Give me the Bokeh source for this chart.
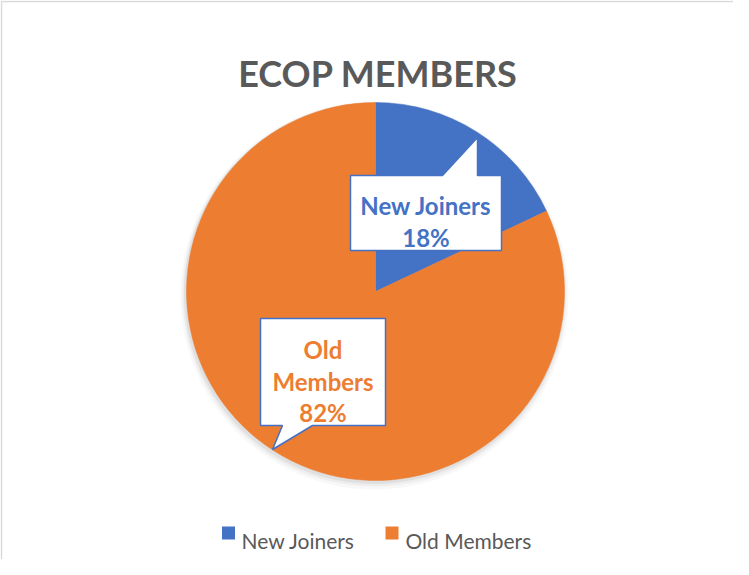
import math
from bokeh.plotting import figure
from bokeh.models import Range1d, ColumnDataSource
from bokeh.core.properties import value
from bokeh.embed import file_html
from bokeh.resources import INLINE

# ---- data ----
title = "ECOP MEMBERS"
categories = ["New Joiners", "Old Members"]
values = [18, 82]
colors = ["#4472C4", "#ED7D31"]

# ---- layout helpers (screen px -> data units) ----
W, H = 733, 559
def X(sx):
    return sx - 8
def Y(sy):
    return 567 - sy

FONT = "Lato"
cx, cy, R = X(383), Y(299), 189

p = figure(width=W, height=H, x_range=Range1d(0, W), y_range=Range1d(0, H),
           x_axis_type=None, y_axis_type=None, toolbar_location=None,
           output_backend="svg", min_border=0)
p.outline_line_color = None
p.grid.visible = False
p.background_fill_color = "white"
p.border_fill_color = "white"

# outer chart frame (top and left edges visible)
p.line([1, 1, W + 20], [-20, H - 1, H - 1], line_color="#D9D9D9", line_width=1.5)

# soft shadow
for dr, dy, a in [(5, 4, 0.05), (3, 3, 0.08), (1.5, 2, 0.12)]:
    p.circle(x=[cx - 1], y=[cy - dy], radius=R + dr, fill_color="#7F7F7F",
             fill_alpha=a, line_color=None)

# pie wedges
total = sum(values)
starts, ends = [], []
cum = math.pi / 2
for v in values:
    sweep = 2 * math.pi * v / total
    ends.append(cum)
    starts.append(cum - sweep)
    cum -= sweep
src = ColumnDataSource(dict(start=starts, end=ends, color=colors, cat=categories))
p.wedge(x=cx, y=cy, radius=R, start_angle="start", end_angle="end",
        fill_color="color", line_color="color", line_width=0.5, source=src)

# callouts
call_blue = "#4472C4"
box1 = [(358, 183), (450, 183), (485, 145), (485, 183), (509, 183), (509, 258), (358, 258)]
box2 = [(268, 326), (393, 326), (393, 433), (320, 433), (280, 457), (290, 433), (268, 433)]
p.patches([[X(a) for a, b in box1], [X(a) for a, b in box2]],
          [[Y(b) for a, b in box1], [Y(b) for a, b in box2]],
          fill_color="white", line_color=call_blue, line_width=1.5)

# label texts from data
lbl_lines = [
    [categories[0], f"{values[0]}%"],
    categories[1].split(" ") + [f"{values[1]}%"],
]
lbl_cx = [433.5, 330.5]
lbl_base0 = [213, 357]
lbl_step = [32, 31.5]
for i, lines in enumerate(lbl_lines):
    xs = [X(lbl_cx[i])] * len(lines)
    ys = [Y(lbl_base0[i] + k * lbl_step[i]) for k in range(len(lines))]
    p.text(x=xs, y=ys, text=lines, text_color=colors[i], text_font=value(FONT),
           text_font_style="bold", text_font_size="24px", text_align="center",
           text_baseline="alphabetic")

# title
p.text(x=[X(385.5)], y=[Y(80)], text=[title], text_color="#595959",
       text_font=value(FONT), text_font_style="bold", text_font_size="36px",
       text_align="center", text_baseline="alphabetic")

# legend
sq_x = [236, 399.5]
txt_x = [249, 413]
p.rect(x=[X(v) for v in sq_x], y=[Y(540.5)] * 2, width=13, height=13,
       fill_color=colors, line_color=None)
p.text(x=[X(v) for v in txt_x], y=[Y(548)] * 2, text=categories, text_color="#595959",
       text_font=value(FONT), text_font_size="21px", text_align="left",
       text_baseline="alphabetic")

open("out.html", "w").write(file_html(p, INLINE))
